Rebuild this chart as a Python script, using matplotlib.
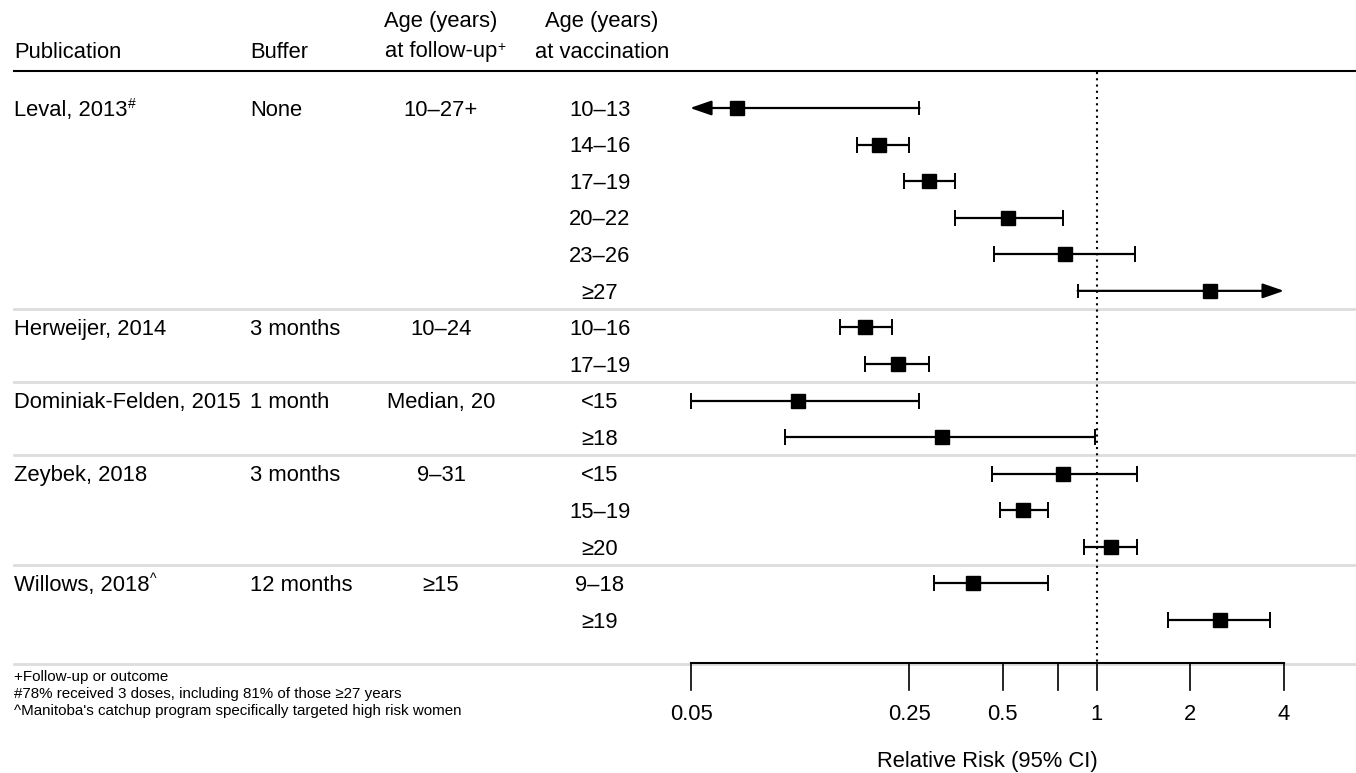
import numpy as np
import matplotlib.pyplot as plt

plt.rcParams['font.family'] = ['Liberation Sans', 'DejaVu Sans']

# study-level columns (one entry per row, blank where the group continues)
publication = ['Leval, 2013', '', '', '', '', '',
               'Herweijer, 2014', '',
               'Dominiak-Felden, 2015', '',
               'Zeybek, 2018', '', '',
               'Willows, 2018', '']
pub_mark = ['#', '', '', '', '', '', '', '', '', '', '', '', '', '^', '']
buffer = ['None', '', '', '', '', '', '3 months', '', '1 month', '',
          '3 months', '', '', '12 months', '']
followup = ['10\u201327+', '', '', '', '', '', '10\u201324', '', 'Median, 20', '',
            '9\u201331', '', '', '\u226515', '']
vacc_age = ['10\u201313', '14\u201316', '17\u201319', '20\u201322', '23\u201326', '\u226527',
            '10\u201316', '17\u201319', '<15', '\u226518',
            '<15', '15\u201319', '\u226520', '9\u201318', '\u226519']

rr = [0.07, 0.20, 0.29, 0.52, 0.79, 2.32, 0.18, 0.23, 0.11, 0.32, 0.78, 0.58, 1.11, 0.40, 2.50]
lo = [0.03, 0.17, 0.24, 0.35, 0.47, 0.87, 0.15, 0.18, 0.05, 0.10, 0.46, 0.49, 0.91, 0.30, 1.70]
hi = [0.27, 0.25, 0.35, 0.78, 1.33, 6.00, 0.22, 0.29, 0.27, 0.99, 1.35, 0.70, 1.35, 0.70, 3.60]

group_ends = [5, 7, 9, 12, 14]
xmin, xmax = 0.05, 4
ticks = [0.05, 0.25, 0.5, 0.75, 1, 2, 4]
tick_labels = ['0.05', '0.25', '0.5', '', '1', '2', '4']

footnotes = ['+Follow-up or outcome',
             '#78% received 3 doses, including 81% of those \u226527 years',
             "^Manitoba's catchup program specifically targeted high risk women"]

W, H = 1356, 773
fig = plt.figure(figsize=(W / 100, H / 100), dpi=100)
ax = fig.add_axes([0, 0, 1, 1])
ax.set_xscale('log')
ax.axis('off')

# map: 0.05 -> 691px, 4 -> 1284px ; row 0 -> 108px, row 14 -> 620px
pxln = (1284 - 691.4) / np.log(xmax / xmin)
ax.set_xlim(xmin * np.exp(-691.4 / pxln), xmin * np.exp((W - 691.4) / pxln))
step = (620 - 108) / 14
ax.set_ylim((H - 108) / step, -108 / step)

def ypx(p):
    return (p - 108) / step

tr = ax.get_yaxis_transform()
fs = 15.8
dy = 0.06
n = len(rr)

# header
ax.text(14 / W, ypx(52), 'Publication', transform=tr, fontsize=fs, va='center')
ax.text(250 / W, ypx(52), 'Buffer', transform=tr, fontsize=fs, va='center')
ax.text(441 / W, ypx(21), 'Age (years)', transform=tr, fontsize=fs, va='center', ha='center')
t = ax.text(441 / W, ypx(52), 'at follow-up', transform=tr, fontsize=fs, va='center', ha='center')
ax.annotate('+', xy=(1.0, 0.75), xycoords=t, fontsize=10, va='center', ha='left')
ax.text(602 / W, ypx(21), 'Age (years)', transform=tr, fontsize=fs, va='center', ha='center')
ax.text(602 / W, ypx(52), 'at vaccination', transform=tr, fontsize=fs, va='center', ha='center')
ax.plot([14 / W, 1], [ypx(71)] * 2, transform=tr, color='black', lw=1.5, clip_on=False)

# text columns
for i in range(n):
    if publication[i]:
        t = ax.text(14 / W, i + dy, publication[i], transform=tr, fontsize=fs, va='center')
        if pub_mark[i]:
            ax.annotate(pub_mark[i], xy=(1.0, 0.8), xycoords=t, fontsize=10,
                        va='center', ha='left')
    ax.text(250 / W, i + dy, buffer[i], transform=tr, fontsize=fs, va='center')
    ax.text(441 / W, i + dy, followup[i], transform=tr, fontsize=fs, va='center', ha='center')
    ax.text(600 / W, i + dy, vacc_age[i], transform=tr, fontsize=fs, va='center', ha='center')

# group separators
for g in group_ends:
    ax.plot([14 / W, 1], [g + 0.5 + (0.7 if g == group_ends[-1] else 0)] * 2,
            transform=tr, color='#dddddd', lw=2, zorder=0)

# reference line
axis_y = ypx(663)
ax.plot([1, 1], [ypx(72), axis_y], color='black', lw=1.5, ls=(0, (1, 2)), zorder=1)

# estimates and intervals
arrow = dict(arrowstyle='-|>,head_length=1.3,head_width=0.45',
             color='black', lw=1.6, shrinkA=0, shrinkB=0)
for i in range(n):
    a, b = max(lo[i], xmin), min(hi[i], xmax)
    if lo[i] < xmin:
        ax.annotate('', xy=(xmin * 0.99, i), xytext=(b, i), arrowprops=arrow)
        ax.plot([b, b], [i - 0.17, i + 0.17], color='black', lw=1.4)
    elif hi[i] > xmax:
        ax.annotate('', xy=(xmax, i), xytext=(a, i), arrowprops=arrow)
        ax.plot([a, a], [i - 0.17, i + 0.17], color='black', lw=1.4)
    else:
        ax.errorbar(rr[i], i, xerr=[[rr[i] - a], [b - rr[i]]], fmt='none',
                    ecolor='black', elinewidth=1.6, capsize=6, capthick=1.4)
    ax.plot(rr[i], i, marker='s', ms=9.5, color='black', zorder=5)

# bottom axis
ax.plot([xmin, xmax], [axis_y] * 2, color='black', lw=1.5)
for tv, tl in zip(ticks, tick_labels):
    ax.plot([tv, tv], [axis_y, ypx(690)], color='black', lw=1.2)
    ax.text(tv, ypx(715), tl, fontsize=fs, ha='center', va='center')
ax.text(np.sqrt(xmin * xmax), ypx(761), 'Relative Risk (95% CI)', fontsize=fs,
        ha='center', va='center')

# footnotes
for k, note in enumerate(footnotes):
    ax.text(14 / W, ypx(677 + 17 * k), note, transform=tr, fontsize=10.9, va='center')

fig.savefig('out.png', dpi=100)
